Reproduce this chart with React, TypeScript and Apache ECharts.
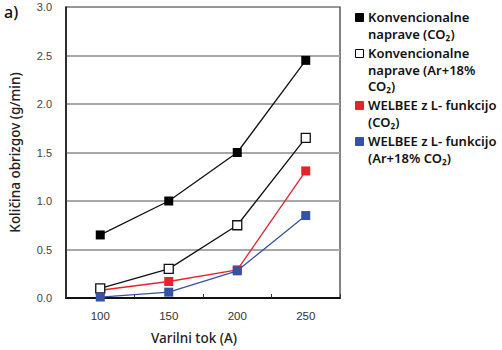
import React, { useEffect, useRef } from "react";
import * as echarts from "echarts";

const categories = ["100", "150", "200", "250"];
const konvCO2 = [0.65, 1.0, 1.5, 2.45];
const konvAr = [0.1, 0.3, 0.75, 1.65];
const welbeeCO2 = [0.08, 0.17, 0.29, 1.31];
const welbeeAr = [0.01, 0.06, 0.28, 0.85];
const legendLabels = [
  "Konvencionalne\nnaprave (CO₂)",
  "Konvencionalne\nnaprave (Ar+18%\nCO₂)",
  "WELBEE z L- funkcijo\n(CO₂)",
  "WELBEE z L- funkcijo\n(Ar+18% CO₂)",
];
const yTickMax = 3.0;
const yTickStep = 0.5;

export default function App() {
  const ref = useRef<HTMLDivElement>(null);
  useEffect(() => {
    if (!ref.current) return;
    const chart = echarts.init(ref.current, null, { renderer: "svg" });
    const red = "#e8222b";
    const blue = "#3552a5";
    const legendStyles = [
      { fill: "#000", stroke: "#000" },
      { fill: "#fff", stroke: "#000" },
      { fill: red, stroke: red },
      { fill: blue, stroke: blue },
    ];
    const legendTops = [13, 49, 101, 137];
    const legendGraphics: any[] = [];
    legendLabels.forEach((lab, i) => {
      legendGraphics.push({
        type: "rect",
        left: 355,
        top: legendTops[i],
        shape: { width: 8, height: 8 },
        style: { fill: legendStyles[i].fill, stroke: legendStyles[i].stroke, lineWidth: 1 },
      });
      legendGraphics.push({
        type: "text",
        left: 368,
        top: legendTops[i] - 4.5,
        style: {
          text: lab,
          font: "600 13px 'Noto Sans'",
          lineHeight: 16.7,
          fill: "#111",
        },
      });
    });
    chart.setOption({
      animation: false,
      grid: {
        left: 59,
        top: 7,
        width: 281,
        height: 296,
        show: true,
        borderColor: "#333",
        borderWidth: 1.2,
        backgroundColor: "transparent",
      },
      graphic: [
        {
          type: "text",
          left: 4,
          top: 4,
          style: { text: "a)", font: "500 16px 'Noto Sans'", fill: "#111" },
        },
        ...legendGraphics,
      ],
      xAxis: {
        type: "category",
        data: categories,
        boundaryGap: true,
        axisLine: { lineStyle: { color: "#111", width: 2 } },
        axisTick: { show: true, inside: true, length: 4, lineStyle: { color: "#333" } },
        axisLabel: { color: "#333", fontSize: 11.5, margin: 12, fontFamily: "'Liberation Sans'" },
        name: "Varilni tok (A)",
        nameLocation: "middle",
        nameGap: 33,
        nameTextStyle: {
          fontSize: 13.5,
          color: "#222",
          fontFamily: "'Noto Sans'",
          fontWeight: 500,
          padding: [0, 18, 0, 0],
        },
      },
      yAxis: {
        type: "value",
        min: 0,
        max: yTickMax,
        interval: yTickStep,
        axisLine: { show: true, lineStyle: { color: "#111", width: 1.5 } },
        axisTick: { show: false },
        axisLabel: {
          color: "#444",
          fontSize: 11,
          margin: 14,
          fontFamily: "'Liberation Sans'",
          formatter: (v: number) => v.toFixed(1),
        },
        splitLine: { show: true, showMaxLine: false, lineStyle: { color: "#a8a8a8", width: 2 } },
        name: "Količina obrizgov (g/min)",
        nameLocation: "middle",
        nameGap: 44,
        nameTextStyle: { fontSize: 13.5, color: "#222", fontFamily: "'Noto Sans'", fontWeight: 500 },
      },
      series: [
        {
          name: "Konvencionalne naprave (CO₂)",
          type: "line",
          data: konvCO2,
          symbol: "rect",
          symbolSize: 9,
          z: 3,
          lineStyle: { color: "#111", width: 1.3 },
          itemStyle: { color: "#000" },
        },
        {
          name: "Konvencionalne naprave (Ar+18% CO₂)",
          type: "line",
          data: konvAr,
          symbol: "rect",
          symbolSize: 9,
          z: 4,
          lineStyle: { color: "#111", width: 1.3 },
          itemStyle: { color: "#fff", borderColor: "#111", borderWidth: 1.3 },
        },
        {
          name: "WELBEE z L- funkcijo (CO₂)",
          type: "line",
          data: welbeeCO2,
          symbol: "rect",
          symbolSize: 9,
          z: 3,
          lineStyle: { color: red, width: 1.3 },
          itemStyle: { color: red },
        },
        {
          name: "WELBEE z L- funkcijo (Ar+18% CO₂)",
          type: "line",
          data: welbeeAr,
          symbol: "rect",
          symbolSize: 9,
          z: 5,
          lineStyle: { color: blue, width: 1.3 },
          itemStyle: { color: blue },
        },
      ],
    });
    return () => chart.dispose();
  }, []);
  return <div ref={ref} style={{ width: 502, height: 350, position: "absolute", left: 0, top: 0 }} />;
}
